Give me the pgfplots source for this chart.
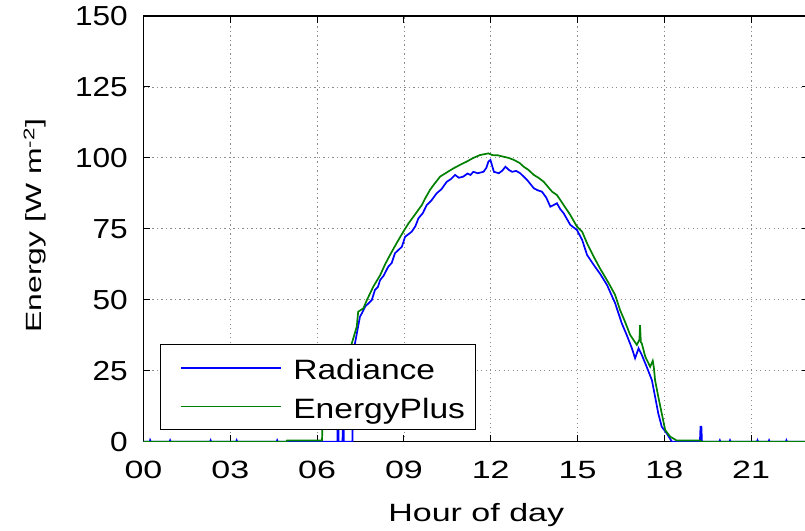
\documentclass[border=0pt]{standalone}
\usepackage{pgfplots}
\pgfplotsset{compat=1.18}
\usepackage{fontspec}
\setmainfont{Liberation Sans}
\newfontfamily\xtf[FakeStretch=1.36]{Liberation Sans}
\newfontfamily\ytf[FakeStretch=1.15]{Liberation Sans}
\newfontfamily\ylf[FakeStretch=1.45]{Liberation Sans}
\newfontfamily\lgf[FakeStretch=1.2]{Liberation Sans}
\definecolor{mblue}{RGB}{0,0,255}
\definecolor{mgreen}{RGB}{0,128,0}
\begin{document}
\begin{tikzpicture}
\begin{axis}[
  scale only axis, width=665.5bp, height=425.7bp,
  xmin=0, xmax=23, ymin=0, ymax=150,
  xtick={0,3,...,21}, xticklabels={00,03,06,09,12,15,18,21},
  ytick={0,25,...,150},
  /pgf/number format/assume math mode=true,
  tick align=inside, major tick length=7bp,
  tick style={black, line width=1bp},
  axis line style={black, line width=1.3bp},
  grid=major,
  grid style={black!45, line width=0.8bp, dash pattern=on 1.2bp off 3.3bp},
  xticklabel style={font=\xtf\fontsize{25bp}{30bp}\selectfont, inner sep=0pt, anchor=north, yshift=-19bp},
  yticklabel style={font=\ytf\fontsize{27.5bp}{30bp}\selectfont, inner sep=0pt, anchor=east, xshift=-15.5bp},
  xlabel={Hour of day},
  xlabel style={font=\xtf\fontsize{25bp}{30bp}\selectfont, at={(axis description cs:0.5,-0.144)}, anchor=north, inner sep=0pt},
  ylabel={Energy [W m\textsuperscript{-2}]},
  ylabel style={font=\ylf\fontsize{22bp}{26bp}\selectfont, at={(axis description cs:-0.1456,0.507)}, anchor=south, inner sep=0pt},
  legend style={at={(axis description cs:0.0248,0.0275)}, anchor=south west, draw=black, line width=1.1bp, fill=white,
    inner xsep=10bp, inner ysep=9bp, row sep=10.7bp,
    font=\lgf\fontsize{28bp}{30bp}\selectfont,
    nodes={inner sep=0pt, text height=26bp, text depth=2bp}},
  legend cell align=left,
  legend image code/.code={\path (0bp,0bp) (121bp,0bp); \draw[#1, line width=1.8bp] (10bp,0bp) -- (110bp,0bp);},
]
\addplot[mblue, line width=1.7bp] coordinates {
(0,0) (0.22,0) (0.23,0.5) (0.25,0) (0.9,0) (0.92,0.5) (0.94,0) (2.3,0) (2.32,0.5) (2.34,0) (3.2,0) (3.22,0.5) (3.24,0) (4.6,0) (4.62,0.5) (4.64,0)
(6.70,0) (6.72,30) (6.74,0) (6.88,0) (6.90,32) (6.92,0) (7.22,0) (7.24,33)
(7.31,34.7) (7.48,44.0) (7.56,45.5) (7.66,47.6) (7.89,49.9) (8.00,53.5) (8.10,54.5) (8.18,57.0) (8.30,58.5) (8.46,61.7) (8.58,63.0) (8.69,66.4) (8.93,68.7) (9.04,72.2) (9.27,74.0) (9.40,76.0) (9.50,78.7) (9.65,80.5) (9.79,83.4) (9.95,85.0) (10.13,87.5) (10.30,89.0) (10.48,91.6) (10.62,92.5) (10.77,94.0) (10.90,93.0) (11.05,93.4) (11.20,94.5) (11.30,94.0) (11.40,95.1) (11.55,94.6) (11.75,95.1) (11.85,96.5) (11.92,98.7) (11.99,99.3) (12.11,95.1) (12.28,94.6) (12.40,95.5) (12.51,96.9) (12.62,95.8) (12.74,95.1) (12.88,95.4) (13.02,94.6) (13.26,92.2) (13.49,89.3) (13.62,88.6) (13.77,88.1) (13.92,86.0) (14.06,82.8) (14.29,84.0) (14.40,82.0) (14.52,80.5) (14.75,76.4) (14.98,74.6) (15.16,71.1) (15.33,65.8) (15.56,62.3) (15.79,59.0) (16.02,55.2) (16.30,48.8) (16.53,41.7) (16.70,37.6) (16.88,32.9) (16.99,29.4) (17.11,32.9) (17.22,30.6) (17.39,26.4) (17.57,21.7) (17.68,15.9) (17.79,10.0) (17.91,5.3) (18.08,3.0) (18.26,0)
(19.23,0) (19.25,5.3) (19.28,5.3) (19.30,0) (19.9,0) (19.92,0.5) (19.94,0) (20.25,0) (20.27,0.5) (20.29,0) (21.2,0) (21.22,0.5) (21.24,0) (21.6,0) (21.62,0.5) (21.64,0) (22.2,0) (22.22,0.5) (22.24,0) (23,0)
};
\addlegendentry{Radiance}
\addplot[mgreen, line width=1.7bp] coordinates {
(0,0) (4.94,0) (4.96,0.4) (6.17,0.4) (6.19,8) (6.5,17) (6.9,28) (7.20,34.7) (7.37,40.5) (7.42,45.8) (7.60,47.0) (7.72,49.9) (7.94,54.6) (8.18,58.7) (8.35,62.5) (8.52,65.8) (8.75,70.0) (8.98,74.0) (9.15,76.8) (9.33,79.3) (9.62,83.4) (9.75,86.0) (9.90,88.7) (10.05,90.8) (10.25,93.4) (10.50,95.0) (10.71,96.3) (10.95,97.6) (11.17,98.7) (11.40,100.0) (11.63,101.0) (11.92,101.6) (12.05,101.0) (12.25,100.9) (12.45,100.4) (12.62,100.0) (12.80,99.3) (13.00,98.2) (13.14,96.9) (13.30,95.8) (13.49,94.0) (13.65,93.0) (13.83,91.6) (14.12,88.1) (14.29,86.9) (14.52,83.4) (14.75,79.9) (14.98,75.8) (15.16,74.0) (15.33,69.9) (15.56,65.2) (15.78,61.0) (16.07,56.0) (16.30,51.7) (16.47,46.4) (16.64,42.3) (16.82,37.6) (17.05,34.1) (17.14,36) (17.16,41.1) (17.19,35) (17.22,34.7) (17.34,30.0) (17.51,26.4) (17.60,28.5) (17.64,26) (17.68,21.7) (17.79,15.9) (17.91,10.0) (18.03,4.1) (18.20,1.8) (18.43,0.4) (19.24,0.4) (19.26,0) (23,0)
};
\addlegendentry{EnergyPlus}
\end{axis}
\pgfresetboundingbox
\useasboundingbox (-143.5bp,-89.3bp) rectangle (661.5bp,441.7bp);
\end{tikzpicture}
\end{document}
